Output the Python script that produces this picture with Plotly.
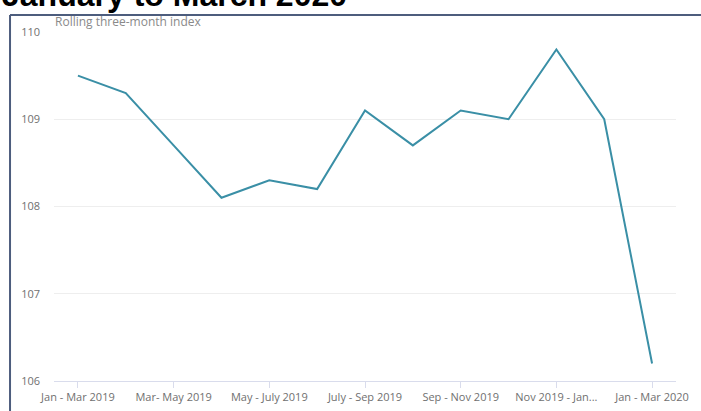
import plotly.graph_objects as go

# Rolling three-month index, Jan-Mar 2019 to Jan-Mar 2020
periods = [
    "Jan - Mar 2019", "Feb - Apr 2019", "Mar- May 2019", "Apr - Jun 2019",
    "May - July 2019", "Jun - Aug 2019", "July - Sep 2019", "Aug - Oct 2019",
    "Sep - Nov 2019", "Oct - Dec 2019", "Nov 2019 - Jan 2020",
    "Dec 2019 - Feb 2020", "Jan - Mar 2020",
]
index_values = [109.5, 109.3, 108.7, 108.1, 108.3, 108.2, 109.1,
                108.7, 109.1, 109.0, 109.8, 109.0, 106.2]

# Every other period is labelled on the axis
shown_periods = periods[::2]
shown_labels = ["Jan - Mar 2019", "Mar- May 2019", "May - July 2019",
                "July - Sep 2019", "Sep - Nov 2019", "Nov 2019 - Jan...",
                "Jan - Mar 2020"]
y_ticks = [106, 107, 108, 109, 110]

title_text = "January to March 2020"
subtitle_text = "Rolling three-month index"

fig = go.Figure()
fig.add_trace(go.Scatter(
    x=periods, y=index_values, mode="lines",
    line=dict(color="#3A8FA6", width=2),
    hoverinfo="x+y", showlegend=False,
))

label_font = dict(family="Open Sans", size=11, color="#707070")

fig.update_layout(
    width=701, height=411,
    margin=dict(l=54, r=25, t=32, b=30),
    paper_bgcolor="white", plot_bgcolor="white",
    xaxis=dict(
        type="category", range=[-0.5, 12.5], automargin=False,
        tickmode="array", tickvals=shown_periods, ticktext=shown_labels,
        showgrid=False, showline=True, linecolor="#d9dcec", linewidth=1,
        ticks="outside", ticklen=6, tickcolor="#d9dcec", tickwidth=1,
        tickfont=label_font, zeroline=False,
    ),
    yaxis=dict(
        range=[106, 110], tickvals=y_ticks, automargin=False,
        showgrid=True, gridcolor="#eeeeee", gridwidth=1,
        showline=False, zeroline=False, ticks="",
        tickfont=label_font, ticklabelstandoff=13,
    ),
    annotations=[
        dict(text=subtitle_text, xref="paper", yref="paper", x=-0.002, y=1.0,
             xanchor="left", yanchor="bottom", showarrow=False,
             font=dict(family="Open Sans", size=12, color="#8a8a8a")),
        dict(text="<b>" + title_text + "</b>", xref="paper", yref="paper",
             x=-0.087, y=1.048, xanchor="left", yanchor="bottom",
             showarrow=False,
             font=dict(family="Liberation Sans", size=32, color="black")),
    ],
    shapes=[
        dict(type="line", xref="paper", yref="paper",
             x0=-0.0707, x1=1.05, y0=1.0487, y1=1.0487,
             line=dict(color="#4d5d7d", width=2)),
        dict(type="line", xref="paper", yref="paper",
             x0=-0.0707, x1=-0.0707, y0=-0.1, y1=1.0487,
             line=dict(color="#4d5d7d", width=2)),
    ],
)

fig.write_html("out.html")
